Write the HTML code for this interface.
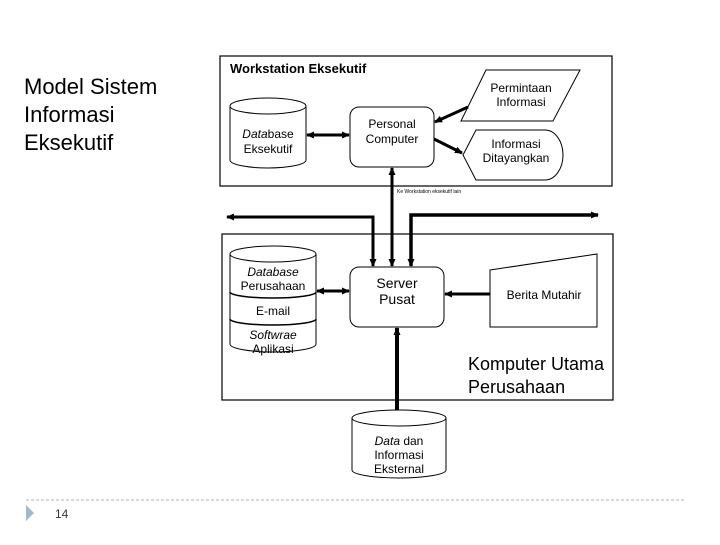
<!DOCTYPE html>
<html><head><style>
body{margin:0;background:#fff;width:720px;height:540px;overflow:hidden;font-family:"Liberation Sans",sans-serif}
</style></head><body>
<svg width="720" height="540" viewBox="0 0 720 540" xmlns="http://www.w3.org/2000/svg" font-family="Liberation Sans, sans-serif">
<defs>
<marker id="a" markerWidth="8" markerHeight="7" refX="7" refY="3.5" orient="auto" markerUnits="userSpaceOnUse"><path d="M0,0 L8,3.5 L0,7 z" fill="#000"/></marker>
<marker id="s" markerWidth="8" markerHeight="7" refX="1" refY="3.5" orient="auto" markerUnits="userSpaceOnUse"><path d="M8,0 L0,3.5 L8,7 z" fill="#000"/></marker>
</defs>
<text x="24" y="94" font-size="22">Model Sistem</text>
<text x="24" y="122" font-size="22">Informasi</text>
<text x="24" y="150" font-size="22">Eksekutif</text>

<rect x="220" y="56" width="392" height="130" fill="none" stroke="#000" stroke-width="1.2"/>
<text x="230" y="73" font-size="13" font-weight="bold">Workstation Eksekutif</text>
<path d="M230,106 L230,160 A38,8 0 0 0 306,160 L306,106" fill="#fff" stroke="#000"/>
<ellipse cx="268" cy="106" rx="38" ry="8" fill="#fff" stroke="#000"/>
<text x="268" y="138" font-size="12" text-anchor="middle"><tspan font-style="italic">Data</tspan>base</text>
<text x="268" y="153" font-size="12" text-anchor="middle">Eksekutif</text>
<rect x="350" y="107" width="84" height="60" rx="9" fill="#fff" stroke="#000"/>
<text x="392" y="128" font-size="12" text-anchor="middle">Personal</text>
<text x="392" y="143" font-size="12" text-anchor="middle">Computer</text>
<path d="M486,70 L580,70 L553,121 L461,121 Z" fill="#fff" stroke="#000"/>
<text x="521" y="92" font-size="12" text-anchor="middle">Permintaan</text>
<text x="521" y="106" font-size="12" text-anchor="middle">Informasi</text>
<path d="M476,130 L545,130 A18,25 0 0 1 545,180 L476,180 L463,155 Z" fill="#fff" stroke="#000"/>
<text x="516" y="148" font-size="12" text-anchor="middle">Informasi</text>
<text x="516" y="162" font-size="12" text-anchor="middle">Ditayangkan</text>
<line x1="307" y1="135" x2="349" y2="135" stroke="#000" stroke-width="3" marker-end="url(#a)" marker-start="url(#s)"/>
<line x1="435" y1="122" x2="468" y2="107" stroke="#000" stroke-width="3" marker-start="url(#s)"/>
<line x1="434" y1="139" x2="462" y2="153" stroke="#000" stroke-width="3" marker-end="url(#a)"/>
<text x="397" y="193" font-size="5">Ke Workstation eksekutif lain</text>

<polyline points="227,217 373,217 373,266" fill="none" stroke="#000" stroke-width="3" marker-end="url(#a)" marker-start="url(#s)"/>
<line x1="392" y1="266" x2="392" y2="168" stroke="#000" stroke-width="3" marker-end="url(#a)" marker-start="url(#s)"/>
<polyline points="598,215 411,215 411,266" fill="none" stroke="#000" stroke-width="3.5" marker-end="url(#a)" marker-start="url(#s)"/>

<rect x="222" y="234" width="391" height="166" fill="none" stroke="#000" stroke-width="1.2"/>
<path d="M230,254 L230,344 A43,8 0 0 0 316,344 L316,254" fill="#fff" stroke="#000"/>
<ellipse cx="273" cy="254" rx="43" ry="8" fill="#fff" stroke="#000"/>
<path d="M230,292 A43,6 0 0 0 316,292" fill="none" stroke="#000" stroke-width="1.5"/>
<path d="M230,319 A43,6 0 0 0 316,319" fill="none" stroke="#000" stroke-width="1.5"/>
<text x="273" y="276" font-size="12" text-anchor="middle" font-style="italic">Database</text>
<text x="273" y="290" font-size="12" text-anchor="middle">Perusahaan</text>
<text x="273" y="315" font-size="12" text-anchor="middle">E-mail</text>
<text x="273" y="339" font-size="12" text-anchor="middle" font-style="italic">Softwrae</text>
<text x="273" y="353" font-size="12" text-anchor="middle">Aplikasi</text>
<rect x="350" y="267" width="94" height="60" rx="9" fill="#fff" stroke="#000"/>
<text x="397" y="288" font-size="14" text-anchor="middle">Server</text>
<text x="397" y="304" font-size="14" text-anchor="middle">Pusat</text>
<line x1="317" y1="291" x2="349" y2="291" stroke="#000" stroke-width="3" marker-end="url(#a)" marker-start="url(#s)"/>
<path d="M490,270 L597,254 L597,327 L490,327 Z" fill="#fff" stroke="#000"/>
<text x="544" y="299" font-size="12" text-anchor="middle">Berita Mutahir</text>
<line x1="490" y1="294" x2="445" y2="294" stroke="#000" stroke-width="3" marker-end="url(#a)"/>
<line x1="397" y1="412" x2="397" y2="328" stroke="#000" stroke-width="4" marker-end="url(#a)"/>
<text x="468" y="370" font-size="18">Komputer Utama</text>
<text x="468" y="393" font-size="18">Perusahaan</text>
<path d="M352,418 L352,470 A47,8 0 0 0 446,470 L446,418" fill="#fff" stroke="#000"/>
<ellipse cx="399" cy="418" rx="47" ry="8" fill="#fff" stroke="#000"/>
<text x="399" y="445" font-size="12" text-anchor="middle"><tspan font-style="italic">Data</tspan> dan</text>
<text x="399" y="459" font-size="12" text-anchor="middle">Informasi</text>
<text x="399" y="473" font-size="12" text-anchor="middle">Eksternal</text>

<line x1="26" y1="500" x2="686" y2="500" stroke="#aab4c0" stroke-dasharray="3,2"/>
<path d="M26,505 L34,513 L26,521 Z" fill="#a3b8cc"/>
<text x="55" y="518" font-size="12" fill="#333">14</text>
</svg>
</body></html>
